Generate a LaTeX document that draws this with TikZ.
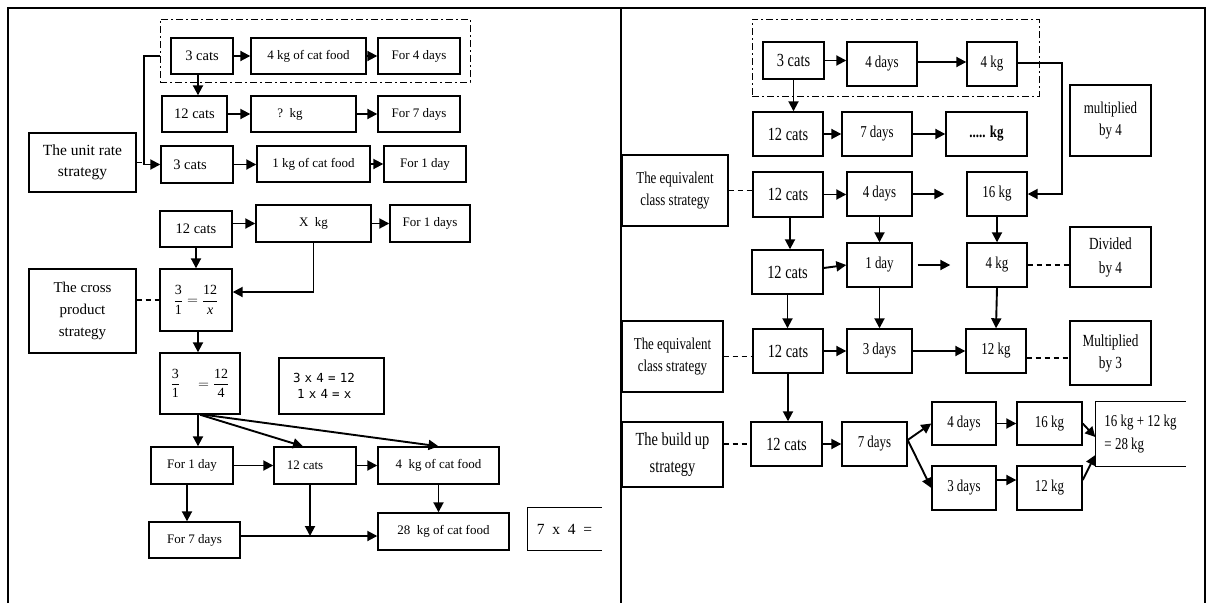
\documentclass[tikz,border=0pt]{standalone}
\usepackage{amsmath}
\usepackage{fontspec}
\setmainfont{Liberation Serif}
\setmonofont{DejaVu Sans Mono}
\newfontfamily\rfont[FakeStretch=0.78]{Liberation Serif}
\usetikzlibrary{arrows.meta}
\newcommand{\bx}[7][]{\node[box,minimum width={#5-#3},minimum height={#6-#4},#1] (#2) at ({(#3+#5)/2},{(#4+#6)/2}) {#7};}
\begin{document}
\begin{tikzpicture}[x=1pt,y=-1pt,
 box/.style={draw,line width=1.4pt,inner sep=1pt,align=center,font=\fontsize{13}{15}\selectfont},
 cat/.style={font=\fontsize{14.5}{16}\selectfont},
 rbox/.style={font=\rfont\fontsize{16.6}{18}\selectfont},
 rcat/.style={font=\rfont\fontsize{18.5}{20}\selectfont},
 rstrat/.style={font=\rfont\fontsize{16.6}{22}\selectfont},
 arr/.style={line width=1.9pt,-{Triangle[length=10pt,width=10pt]}},
 dsh/.style={line width=1.2pt,dash pattern=on 5pt off 4pt},
 ddash/.style={line width=0.9pt,dash pattern=on 7pt off 3pt on 2pt off 3pt},
 frame/.style={line width=2pt}]
\useasboundingbox (0,0) rectangle (1208,603);
% frame
\draw[frame] (8,603) -- (8,8) -- (1205,8) -- (1205,603);
\draw[frame] (621,8) -- (621,603);
% ---------------- left panel ----------------
\bx[ddash]{ddL}{160}{19}{470}{82}{}
\bx[cat]{c1}{171}{38}{233}{74}{3 cats}
\bx{f4kg}{251}{38}{366}{74}{4 kg of cat food}
\bx{for4}{378}{38}{460}{74}{For 4 days}
\bx[cat]{c2}{162}{96}{227}{132}{12 cats}
\bx{qkg}{251}{96}{356}{132}{\hspace*{-27pt}?~~kg}
\bx{for7}{378}{96}{460}{132}{For 7 days}
\bx[cat]{c3}{161}{146}{233}{183}{\hspace*{-14pt}3 cats}
\bx{kg1}{257}{146}{370}{182}{1 kg of cat food}
\bx{for1}{384}{146}{466}{182}{For 1 day}
\bx[font=\fontsize{15.5}{21}\selectfont]{unit}{29}{133}{136}{192}{The unit rate\\strategy}

\bx[cat]{c12b}{160}{211}{232}{247}{12 cats}
\bx{xkg}{256}{205}{371}{242}{X~~kg}
\bx{for1d}{390}{205}{470}{242}{For 1 days}
\bx[font=\fontsize{15}{21.7}\selectfont]{cross}{29}{269}{136}{353}{The cross\\product\\strategy}
\bx[font=\fontsize{14}{16}\selectfont]{fr1}{160}{269}{232}{331}{$\dfrac{\textrm{3}}{\textrm{1}}=\dfrac{\textrm{12}}{\textit{x}}$}
\bx[font=\fontsize{14}{16}\selectfont]{fr2}{160}{353}{240}{414}{$\dfrac{\textrm{3}}{\textrm{1}}\quad=\dfrac{\textrm{12}}{\textrm{4}}$}
\bx[align=left,text width=77pt,font=\ttfamily\fontsize{12.5}{16}\selectfont]{mono}{279}{358}{384}{414}{3~x~4~=~12\\~1~x~4~=~x}
\bx{d1}{151}{447}{233}{484}{For 1 day}
\bx{c12c}{274}{447}{356}{484}{\hspace*{-20pt}12 cats}
\bx{kg4}{378}{447}{499}{484}{4~~kg of cat food}
\bx{d7}{149}{522}{240}{558}{For 7 days}
\bx{kg28}{378}{513}{509}{550}{28~~kg of cat food}
\bx[draw=none,font=\fontsize{15.5}{17}\selectfont]{seven}{528}{508}{601}{550}{7~~x~~4~~=}
\draw[line width=1.4pt] (seven.north east) -- (seven.north west) -- (seven.south west) -- (seven.south east);

% left connectors
\coordinate (jL) at (144,56);
\draw[arr] (ddL.west |- c1) -- (jL) |- (c3.west);
\draw[dsh] (unit.east) -- (unit.east -| jL);
\draw[arr] ([xshift=-4pt]c1.south) -- ([xshift=-4pt]c1.south |- c2.north);
\draw[arr] (c1.east) -- (f4kg.west);
\draw[arr] (f4kg.east) -- (for4.west);
\draw[arr] (c2.east) -- (qkg.west);
\draw[arr] (qkg.east) -- (for7.west);
\draw[arr] (c3.east) -- (c3.east -| kg1.west);
\draw[arr] (kg1.east) -- (kg1.east -| for1.west);

\draw[arr] (c12b.east |- xkg) -- (xkg.west);
\draw[arr] (xkg.east) -- (for1d.west);
\draw[arr] (c12b.south) -- (c12b.south |- fr1.north);
\draw[arr] (xkg.south) |- ([yshift=8pt]fr1.east);
\draw[dsh] (cross.east |- fr1) -- (fr1.west);
\draw[arr] ([xshift=2pt]fr1.south) -- ([xshift=2pt]fr1.south |- fr2.north);
\draw[arr] ([xshift=-2pt]fr2.south) -- ([xshift=-2pt]fr2.south |- d1.north);
\draw[arr] (fr2.south) -- ([xshift=-12pt]c12c.north);
\draw[arr] ([xshift=4pt]fr2.south) -- (kg4.north);
\draw[arr] (d1.east) -- (c12c.west);
\draw[arr] (c12c.east) -- (kg4.west);
\draw[arr] ([xshift=-5pt]d1.south) -- ([xshift=-5pt]d1.south |- d7.north);
\draw[arr] (kg4.south) -- (kg4.south |- kg28.north);
\coordinate (m7) at ([yshift=4pt]d7.east);
\draw[arr] (m7) -- (m7 -| kg28.west);
\draw[arr] ([xshift=-5pt]c12c.south) -- ([xshift=-5pt]c12c.south |- m7);

% ---------------- right panel ----------------
\bx[ddash]{ddR}{752}{19}{1039}{96}{}
\bx[rcat]{rc1}{763}{42}{824}{79}{3 cats}
\bx[rbox]{rd4}{847}{42}{917}{86}{4 days}
\bx[rbox]{rkg4}{967}{42}{1017}{86}{4 kg}
\bx[rstrat]{mult4}{1070}{85}{1151}{156}{multiplied\\by 4}
\bx[rcat]{rc2}{753}{112}{823}{156}{12 cats}
\bx[rbox]{rd7}{842}{112}{912}{156}{7 days}
\bx[rbox]{rdots}{946}{112}{1027}{156}{\textbf{..... kg}}
\bx[rstrat]{strat1}{622}{155}{728}{226}{The equivalent\\class strategy}
\bx[rcat]{rc3}{753}{172}{823}{217}{12 cats}
\bx[rbox]{rd4b}{847}{172}{912}{216}{4 days}
\bx[rbox]{rkg16}{967}{172}{1027}{216}{16 kg}
\bx[rcat]{rc4}{752}{250}{823}{294}{12 cats}
\bx[rbox]{rd1}{847}{243}{912}{287}{1 day}
\bx[rbox]{rkg4b}{967}{243}{1027}{287}{4 kg}
\bx[font=\rfont\fontsize{17}{24}\selectfont]{div4}{1070}{227}{1151}{287}{Divided\\by 4}
\bx[rstrat]{strat2}{622}{321}{723}{392}{The equivalent\\class strategy}
\bx[rcat]{rc5}{753}{329}{823}{373}{12 cats}
\bx[rbox]{rd3}{847}{329}{912}{373}{3 days}
\bx[rbox]{rkg12}{966}{329}{1026}{373}{12 kg}
\bx[font=\rfont\fontsize{17}{22}\selectfont]{mult3}{1070}{321}{1151}{385}{Multiplied\\by 3}
\bx[font=\rfont\fontsize{18.5}{27}\selectfont]{build}{622}{422}{723}{487}{The build up\\strategy}
\bx[rcat]{rc6}{751}{422}{822}{466}{12 cats}
\bx[rbox]{rd7b}{842}{422}{907}{466}{7 days}
\bx[rbox]{rd4c}{932}{402}{996}{445}{4 days}
\bx[rbox]{rkg16c}{1017}{402}{1082}{445}{16 kg}
\bx[rbox]{rd3c}{932}{466}{996}{510}{3 days}
\bx[rbox]{rkg12c}{1017}{466}{1082}{510}{12 kg}
\bx[draw=none,align=left,font=\rfont\fontsize{16.6}{22.7}\selectfont]{sum}{1096}{402}{1185}{466}{16 kg + 12 kg\\= 28 kg}
\draw[line width=1.4pt] (sum.north east) -- (sum.north west) -- (sum.south west) -- (sum.south east);

% right connectors
\draw[arr] (rc1.east) -- (rc1.east -| rd4.west);
\draw[arr] ([yshift=2pt]rd4.east) -- ([yshift=2pt]rd4.east -| rkg4.west);
\draw[arr] ([yshift=1pt]rkg4.east) -- ++(44,0) |- (rkg16.east);
\draw[arr] (rc1.south) -- (rc1.south |- rc2.north);
\draw[arr] (rc2.east) -- (rd7.west);
\draw[arr] (rd7.east) -- (rdots.west);
\draw[dsh] (strat1.east) -- (strat1.east -| rc3.west);
\draw[arr] (rc3.east) -- (rc3.east -| rd4b.west);
\draw[arr,shorten >=22pt] (rd4b.east) -- (rd4b.east -| rkg16.west);
\draw[arr] ([xshift=2pt]rc3.south) -- ([xshift=2pt]rc3.south |- rc4.north);
\draw[arr] (rd4b.south) -- (rd4b.south |- rd1.north);
\draw[arr] (rkg16.south) -- (rkg16.south |- rkg4b.north);
\draw[arr] ([yshift=4pt]rc4.east) -- (rd1.west);
\draw[arr,shorten <=5pt,shorten >=16pt] (rd1.east) -- (rkg4b.west);
\draw[dsh] (rkg4b.east) -- (rkg4b.east -| div4.west);
\draw[arr] (rc4.south) -- (rc4.south |- rc5.north);
\draw[arr] (rd1.south) -- (rd1.south |- rd3.north);
\draw[arr] (rkg4b.south) -- (rkg12.north);
\draw[dsh] (strat2.east) -- (strat2.east -| rc5.west);
\draw[arr] (rc5.east) -- (rd3.west);
\draw[arr] (rd3.east) -- (rkg12.west);
\draw[dsh] ([yshift=-7pt]rkg12.east) -- ([yshift=-7pt]rkg12.east -| mult3.west);
\draw[arr] (rc5.south) -- (rc5.south |- rc6.north);
\draw[dsh] (build.east |- rc6) -- (rc6.west);
\draw[arr] (rc6.east) -- (rd7b.west);
\draw[arr] ([yshift=4pt]rd7b.east) -- (rd4c.west);
\draw[arr] ([yshift=4pt]rd7b.east) -- (rd3c.west);
\draw[arr] (rd4c.east) -- (rkg16c.west);
\draw[arr] ([yshift=8pt]rd3c.east) -- ([yshift=8pt]rd3c.east -| rkg12c.west);
\draw[arr] (rkg16c.east) -- ([yshift=-3pt]sum.west);
\draw[arr] ([yshift=8pt]rkg12c.east) -- ([yshift=-21pt]sum.west);
\end{tikzpicture}
\end{document}
